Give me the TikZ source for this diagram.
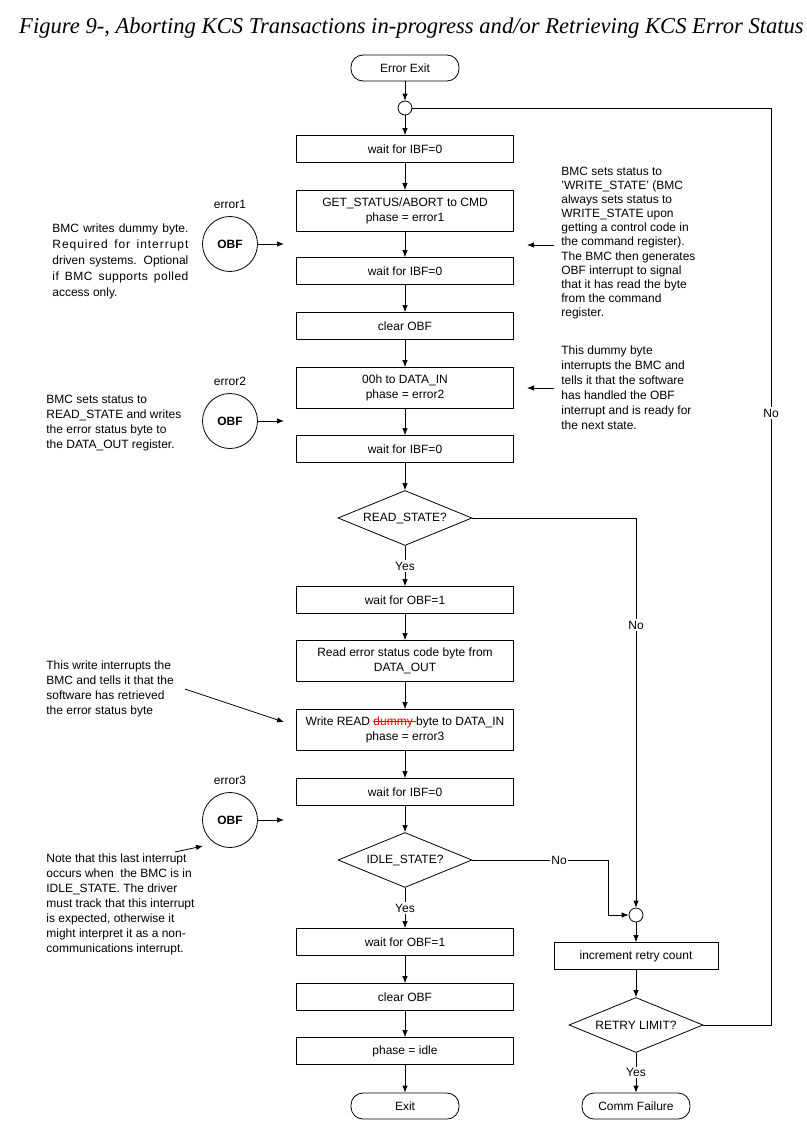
\documentclass[tikz,border=0pt]{standalone}
\usepackage{fontspec}
\setmainfont{Liberation Sans}
\newfontfamily\titlefont{Liberation Serif}
\usetikzlibrary{shapes.geometric,arrows.meta}
\newsavebox\mystrikebox
\newcommand\mystrike[1]{\sbox\mystrikebox{#1}\rlap{\usebox\mystrikebox}\rule[0.3em]{\wd\mystrikebox}{0.6pt}}
\begin{document}
\begin{tikzpicture}[x=1pt,y=-1pt,
  font=\fontsize{12}{14}\selectfont,
  line width=0.8pt,
  >={Latex[length=7pt,width=5.5pt]},
  box/.style={draw, minimum width=217pt, minimum height=27pt, align=center, inner sep=2pt},
  box2/.style={box, minimum height=41pt, font=\fontsize{12}{15}\selectfont},
  term/.style={draw, rounded corners=12pt, minimum width=108pt, minimum height=26pt, inner sep=2pt},
  dec/.style={draw, diamond, aspect=2.4, inner sep=1pt, minimum width=134pt, minimum height=55pt},
  junc/.style={draw, circle, minimum size=14pt, inner sep=0pt},
  obf/.style={draw, circle, minimum size=55pt, inner sep=0pt, font=\bfseries\fontsize{12}{14}\selectfont},
  note/.style={inner sep=0pt, anchor=west},
  lbl/.style={fill=white, inner sep=1.5pt}]

\useasboundingbox (0,0) rectangle (806,1132);

\node (title) at (411.5,28) {\titlefont\itshape\fontsize{22.6}{26}\selectfont Figure 9-, Aborting KCS Transactions in-progress and/or Retrieving KCS Error Status};

% main column
\node[term] (ee) at (405,68) {Error Exit};
\node[junc] (j1) at (405,108) {};
\node[box] (b1) at (405,149) {wait for IBF=0};
\node[box2] (b2) at (405,211) {GET\_STATUS/ABORT to CMD\\phase = error1};
\node[box] (b3) at (405,271) {wait for IBF=0};
\node[box] (b4) at (405,326) {clear OBF};
\node[box2] (b5) at (405,388) {00h to DATA\_IN\\phase = error2};
\node[box] (b6) at (405,449) {wait for IBF=0};
\node[dec] (d1) at (405,518) {READ\_STATE?};
\node[box] (b7) at (405,600) {wait for OBF=1};
\node[box2] (b8) at (405,661) {Read error status code byte from\\DATA\_OUT};
\node[box2] (b9) at (405,730) {Write READ \textcolor{red}{\mystrike{dummy }}byte to DATA\_IN\\phase = error3};
\node[box] (b10) at (405,792) {wait for IBF=0};
\node[dec] (d2) at (405,860) {IDLE\_STATE?};
\node[box] (b11) at (405,942) {wait for OBF=1};
\node[box] (b12) at (405,997) {clear OBF};
\node[box] (b13) at (405,1051) {phase = idle};
\node[term] (ex) at (405,1106) {Exit};

% right column
\node[junc] (j2) at (636,915) {};
\node[box, minimum width=164pt] (inc) at (636,956) {increment retry count};
\node[dec] (d3) at (636,1025) {RETRY LIMIT?};
\node[term] (cf) at (636,1106) {Comm Failure};

% OBF circles
\node[obf] (o1) at (230,244) {OBF};
\node[obf] (o2) at (230,421) {OBF};
\node[obf] (o3) at (230,820) {OBF};
\node (e1) at (230,204) {error1};
\node (e2) at (230,381) {error2};
\node (e3) at (230,780) {error3};
\coordinate (a1) at (284,244);
\coordinate (a2) at (284,421);
\coordinate (a3) at (284,820);

% notes
\node[note, text width=136pt, align=justify, font=\fontsize{12}{16}\selectfont] (n1) at (52,261)
  {BMC writes dummy byte.\linebreak {\addfontfeature{LetterSpace=8}Required for interrupt}\linebreak driven systems. Optional\linebreak {\addfontfeature{LetterSpace=4}if BMC supports polled}\linebreak access only.};
\node[note, align=left, font=\fontsize{12}{15}\selectfont] (n2) at (46,423)
  {BMC sets status to\\READ\_STATE and writes\\the error status byte to\\the DATA\_OUT register.};
\node[note, align=left, font=\fontsize{12}{15}\selectfont] (n3) at (46,689)
  {This write interrupts the\\BMC and tells it that the\\software has retrieved\\the error status byte};
\node[note, align=left, font=\fontsize{12}{15}\selectfont] (n4) at (46,904)
  {Note that this last interrupt\\occurs when \ the BMC is in\\IDLE\_STATE. The driver\\must track that this interrupt\\is expected, otherwise it\\might interpret it as a non-\\communications interrupt.};
\node[note, align=left, font=\fontsize{12}{14.1}\selectfont] (r1) at (561,243)
  {BMC sets status to\\'WRITE\_STATE' (BMC\\always sets status to\\WRITE\_STATE upon\\getting a control code in\\the command register).\\The BMC then generates\\OBF interrupt to signal\\that it has read the byte\\from the command\\register.};
\node[note, align=left, font=\fontsize{12}{15}\selectfont] (r2) at (561,388)
  {This dummy byte\\interrupts the BMC and\\tells it that the software\\has handled the OBF\\interrupt and is ready for\\the next state.};

\coordinate (r1s) at (554,245);
\coordinate (r1e) at (527,245);
\coordinate (r2s) at (554,388);
\coordinate (r2e) at (527,388);
\coordinate (n3s) at (185,689);
\coordinate (n3e) at (284,722);
\coordinate (n4s) at (175,852);
\coordinate (n4e) at (203,846);

% connectors main
\draw[->] (ee) -- (j1);
\draw[->] (j1) -- (b1);
\draw[->] (b1) -- (b2);
\draw[->] (b2) -- (b3);
\draw[->] (b3) -- (b4);
\draw[->] (b4) -- (b5);
\draw[->] (b5) -- (b6);
\draw[->] (b6) -- (d1);
\draw[->] (d1.south) -- node[lbl]{Yes} (b7.north);
\draw[->] (b7) -- (b8);
\draw[->] (b8) -- (b9);
\draw[->] (b9) -- (b10);
\draw[->] (b10) -- (d2);
\draw[->] (d2.south) -- node[lbl]{Yes} (b11.north);
\draw[->] (b11) -- (b12);
\draw[->] (b12) -- (b13);
\draw[->] (b13) -- (ex);

% right side
\coordinate (k) at (608,860);
\coordinate (lp) at (771,560);
\draw[->] (d1.east) -| (j2.north);
\node[lbl] at (636,625) {No};
\draw[->] (d2.east) -- (k) |- (j2.west);
\node[lbl] at (559,860) {No};
\draw[->] (j2) -- (inc);
\draw[->] (inc) -- (d3);
\draw[->] (d3.south) -- node[lbl]{Yes} (cf.north);
\draw (d3.east) -- (d3.east -| lp) -- (j1.east -| lp) -- (j1.east);
\node[lbl] at (771,413) {No};

% annotation arrows
\draw[->] (o1.east) -- (a1);
\draw[->] (o2.east) -- (a2);
\draw[->] (o3.east) -- (a3);
\draw[->] (r1s) -- (r1e);
\draw[->] (r2s) -- (r2e);
\draw[->] (n3s) -- (n3e);
\draw[->] (n4s) -- (n4e);
\end{tikzpicture}
\end{document}
